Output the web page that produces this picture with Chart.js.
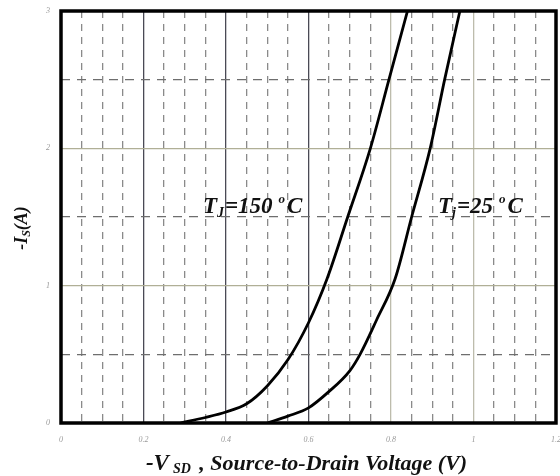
<!DOCTYPE html>
<html>
<head>
<meta charset="utf-8">
<script src="https://cdn.jsdelivr.net/npm/chart.js@4.4.0/dist/chart.umd.min.js"></script>
<style>
  html, body { margin: 0; padding: 0; background: #fff; }
</style>
</head>
<body>
<canvas id="chart" width="560" height="476"></canvas>
<script>
// -Is vs -Vsd, two junction temperatures
const vHot = [0.29, 0.35, 0.40, 0.45, 0.50, 0.55, 0.60, 0.645, 0.695, 0.75, 0.795, 0.84];
const iHot = [0, 0.04, 0.08, 0.14, 0.27, 0.46, 0.73, 1.05, 1.5, 2.0, 2.5, 3.0];
const vCold = [0.50, 0.55, 0.60, 0.65, 0.70, 0.725, 0.765, 0.81, 0.85, 0.895, 0.93, 0.967];
const iCold = [0, 0.05, 0.11, 0.23, 0.38, 0.5, 0.75, 1.05, 1.5, 2.0, 2.5, 3.0];
const xTickLabels = ["0", "0.2", "0.4", "0.6", "0.8", "1", "1.2"];
const yTickLabels = ["0", "1", "2", "3"];

const serif = '"Liberation Serif", "DejaVu Serif", serif';

const toPoints = (xs, ys) => xs.map((x, i) => ({ x: x, y: ys[i] }));
const onStep = (v, step) => Math.abs(v / step - Math.round(v / step)) < 1e-6;

function runsWidth(ctx, runs) {
    let w = 0;
    runs.forEach(r => {
        ctx.font = `italic bold ${r.size}px ${serif}`;
        w += ctx.measureText(r.t).width + (r.gap || 0);
    });
    return w;
}

function drawRuns(ctx, runs, x, y) {
    let cx = x;
    runs.forEach(r => {
        ctx.font = `italic bold ${r.size}px ${serif}`;
        ctx.fillText(r.t, cx, y + (r.dy || 0));
        cx += ctx.measureText(r.t).width + (r.gap || 0);
    });
}

const hotLabel = [
    { t: "T", size: 23 }, { t: "J", size: 14, dy: 4, gap: 1 }, { t: "=150", size: 23, gap: 6 },
    { t: "o", size: 13, dy: -10, gap: 2 }, { t: "C", size: 23 }
];
const coldLabel = [
    { t: "T", size: 23 }, { t: "j", size: 14, dy: 4, gap: 1 }, { t: "=25", size: 23, gap: 6 },
    { t: "o", size: 13, dy: -10, gap: 2 }, { t: "C", size: 23 }
];
const xTitle = [
    { t: "-V", size: 23, gap: 4 }, { t: "SD", size: 14, dy: 3, gap: 3 },
    { t: " , Source-to-Drain Voltage (V)", size: 22 }
];
const yTitle = [
    { t: "-I", size: 18 }, { t: "S", size: 12, dy: 3 }, { t: "(A)", size: 18 }
];

const decor = {
    id: "decor",
    afterDatasetsDraw(chart) {
        const { ctx, chartArea: a, scales: { x, y } } = chart;
        ctx.save();
        // frame
        ctx.strokeStyle = "#000";
        ctx.lineWidth = 3.5;
        ctx.strokeRect(a.left, a.top, a.right - a.left, a.bottom - a.top);

        ctx.fillStyle = "#111";
        ctx.textBaseline = "alphabetic";
        ctx.textAlign = "left";
        drawRuns(ctx, hotLabel, x.getPixelForValue(0.344), y.getPixelForValue(1.53));
        drawRuns(ctx, coldLabel, x.getPixelForValue(0.914), y.getPixelForValue(1.53));

        // x title
        const xw = runsWidth(ctx, xTitle);
        drawRuns(ctx, xTitle, (a.left + a.right) / 2 - xw / 2 - 2, 470);

        // y title
        const yw = runsWidth(ctx, yTitle);
        ctx.translate(27, 228);
        ctx.rotate(-Math.PI / 2);
        drawRuns(ctx, yTitle, -yw / 2, 0);
        ctx.restore();
    }
};

new Chart(document.getElementById("chart"), {
    type: "line",
    data: {
        datasets: [
            { label: "Tj=150", data: toPoints(vHot, iHot) },
            { label: "Tj=25", data: toPoints(vCold, iCold) }
        ]
    },
    options: {
        responsive: false,
        animation: false,
        layout: { padding: { top: 11, right: 4, left: 0, bottom: 0 } },
        elements: {
            point: { radius: 0 },
            line: { borderColor: "#000", borderWidth: 2.8, cubicInterpolationMode: "monotone", fill: false }
        },
        plugins: { legend: { display: false }, tooltip: { enabled: false } },
        scales: {
            x: {
                type: "linear",
                min: 0, max: 1.2,
                afterFit: s => { s.height = 53; s.paddingLeft = 0; s.paddingRight = 0; },
                ticks: {
                    stepSize: 0.05,
                    autoSkip: false,
                    maxRotation: 0,
                    padding: 12,
                    color: "#999",
                    font: { family: serif, style: "italic", size: 8 },
                    callback: v => onStep(v, 0.2) ? xTickLabels[Math.round(v / 0.2)] : ""
                },
                grid: {
                    drawTicks: false,
                    lineWidth: 1.3,
                    color: c => {
                        const v = c.tick.value;
                        if (!onStep(v, 0.2)) return "#8a8a8a";
                        return v > 0.7 ? "#bdbcac" : "#4a4a55";
                    }
                },
                border: {
                    display: false,
                    dash: c => onStep(c.tick.value, 0.2) ? [] : [7, 6]
                }
            },
            y: {
                min: 0, max: 3,
                afterFit: s => { s.width = 61; s.paddingTop = 0; s.paddingBottom = 0; },
                ticks: {
                    stepSize: 0.5,
                    autoSkip: false,
                    padding: 11,
                    color: "#999",
                    font: { family: serif, style: "italic", size: 8 },
                    callback: v => onStep(v, 1) ? yTickLabels[Math.round(v)] : ""
                },
                grid: {
                    drawTicks: false,
                    lineWidth: 1.3,
                    color: c => onStep(c.tick.value, 1) ? "#b0af96" : "#6e6e6e"
                },
                border: {
                    display: false,
                    dash: c => onStep(c.tick.value, 1) ? [] : [9, 7]
                }
            }
        }
    },
    plugins: [decor]
});
</script>
</body>
</html>
